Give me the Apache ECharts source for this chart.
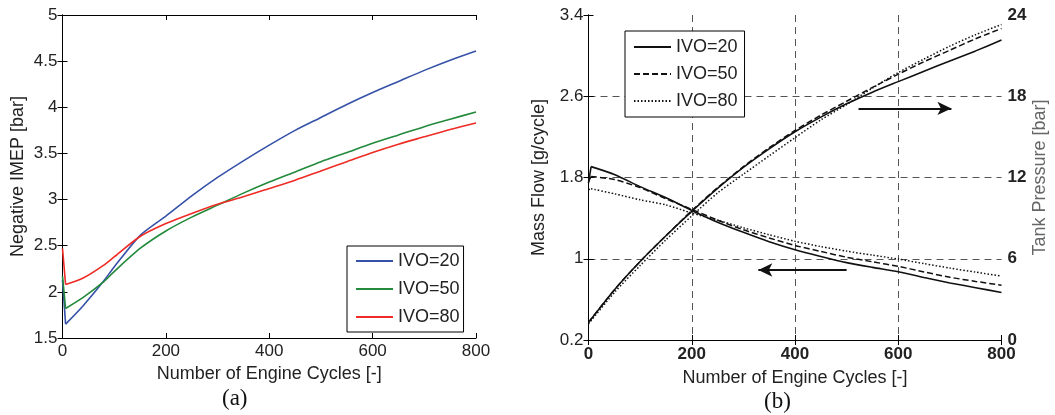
<!DOCTYPE html>
<html>
<head>
<meta charset="utf-8">
<script src="https://cdn.jsdelivr.net/npm/echarts@6/dist/echarts.min.js"></script>
<style>
html,body{margin:0;padding:0;background:#fff;}
#chart{width:1055px;height:415px;}
</style>
</head>
<body>
<div id="chart"></div>
<script>
// ---------- Data: panel (a) ----------
const cyclesA = [0, 6, 40, 80, 100, 150, 200, 250, 300, 350, 400, 450, 500, 550, 600, 650, 700, 750, 800];
const imep20 = [2.13, 1.65, 1.85, 2.12, 2.27, 2.61, 2.82, 3.04, 3.24, 3.42, 3.59, 3.75, 3.89, 4.03, 4.16, 4.28, 4.40, 4.51, 4.61];
const imep50 = [2.17, 1.82, 1.94, 2.11, 2.22, 2.47, 2.66, 2.81, 2.94, 3.07, 3.19, 3.30, 3.41, 3.51, 3.61, 3.70, 3.79, 3.87, 3.95];
const imep80 = [2.47, 2.08, 2.15, 2.29, 2.38, 2.60, 2.74, 2.85, 2.95, 3.03, 3.12, 3.21, 3.31, 3.41, 3.51, 3.60, 3.68, 3.76, 3.83];
const legendNames = ['IVO=20', 'IVO=50', 'IVO=80'];

// ---------- Data: panel (b) ----------
const cyclesMF = [0, 5, 50, 100, 150, 200, 250, 300, 350, 400, 450, 500, 550, 600, 650, 700, 750, 800];
const massFlow20 = [1.745, 1.907, 1.83, 1.71, 1.60, 1.476, 1.36, 1.26, 1.168, 1.089, 1.023, 0.962, 0.915, 0.872, 0.815, 0.762, 0.715, 0.668];
const massFlow50 = [1.76, 1.81, 1.78, 1.70, 1.59, 1.486, 1.38, 1.285, 1.205, 1.131, 1.072, 1.015, 0.97, 0.925, 0.87, 0.818, 0.777, 0.74];
const massFlow80 = [1.68, 1.69, 1.64, 1.58, 1.53, 1.45, 1.38, 1.305, 1.236, 1.172, 1.12, 1.075, 1.035, 0.997, 0.952, 0.908, 0.868, 0.83];
const cyclesTP = [0, 50, 100, 150, 200, 250, 300, 350, 400, 450, 500, 550, 600, 650, 700, 750, 800];
const tankP20 = [1.3, 3.7, 5.8, 7.7, 9.5, 11.2, 12.75, 14.12, 15.38, 16.46, 17.44, 18.3, 19.08, 19.85, 20.6, 21.35, 22.15];
const tankP50 = [1.3, 3.7, 5.8, 7.7, 9.55, 11.25, 12.8, 14.2, 15.48, 16.6, 17.63, 18.65, 19.63, 20.55, 21.4, 22.25, 23.0];
const tankP80 = [1.2, 3.5, 5.5, 7.4, 9.16, 10.86, 12.24, 13.6, 14.94, 16.25, 17.39, 18.6, 19.75, 20.75, 21.7, 22.55, 23.3];
// arrows (data coordinates): [x from, x to, y]
const arrowTP = [523, 703, 17.1];   // right axis (Tank Pressure)
const arrowMF = [500, 329, 0.889];  // left axis (Mass Flow)

// Mass-flow axis runs 0.2..3.4; drawn on an axis offset by MF_BASE so min is a multiple of the interval
const MF_BASE = 0.2;

const FONT = "'Liberation Sans', Arial, Helvetica, sans-serif";
const TXT = '#222';

function pairs(xs, ys, off) { return xs.map((x, i) => [x, +(ys[i] - (off || 0)).toFixed(4)]); }

const chart = echarts.init(document.getElementById('chart'), null, {renderer: 'canvas'});

const axLine = {show: true, lineStyle: {color: '#000', width: 1}};
const axTick = {show: true, inside: true, length: 5, lineStyle: {color: '#000', width: 1}};
const dashGrid = {show: true, showMinLine: false, showMaxLine: false, lineStyle: {color: '#555', width: 1, type: [7, 5]}};

function xAx(grid, pos, opts) {
  return Object.assign({
    gridIndex: grid, type: 'value', position: pos, min: 0, max: 800, interval: 200,
    axisLine: axLine, axisTick: axTick, splitLine: {show: false},
    axisLabel: {show: false}
  }, opts || {});
}

const SM = 0.25;

// A curve whose first segment (initial transient) is straight and the rest smoothed.
function curve(name, xi, yi, pts, lineStyle, extra) {
  const base = {name: name, type: 'line', xAxisIndex: xi, yAxisIndex: yi, symbol: 'none',
    lineStyle: lineStyle, itemStyle: {color: lineStyle.color}};
  return [
    Object.assign({}, base, {smooth: SM, data: pts.slice(1)}, extra || {}),
    Object.assign({}, base, {smooth: false, data: pts.slice(0, 2)})
  ];
}

const series = [].concat(
  curve('IVO=20', 0, 0, pairs(cyclesA, imep20), {color: '#3552a8', width: 1.6}),
  curve('IVO=50', 0, 0, pairs(cyclesA, imep50), {color: '#23893b', width: 1.6}),
  curve('IVO=80', 0, 0, pairs(cyclesA, imep80), {color: '#ee2b25', width: 1.6}),
  curve('IVO=20 ', 2, 2, pairs(cyclesMF, massFlow20, MF_BASE), {color: '#111', width: 1.6, type: 'solid'}, {
    markLine: {silent: true, symbol: ['none', 'arrow'], symbolSize: [10, 14], label: {show: false},
      lineStyle: {color: '#111', width: 2, type: 'solid'},
      data: [[{coord: [arrowMF[0], arrowMF[2] - MF_BASE]}, {coord: [arrowMF[1], arrowMF[2] - MF_BASE]}]]}
  }),
  curve('IVO=50 ', 2, 2, pairs(cyclesMF, massFlow50, MF_BASE), {color: '#111', width: 1.5, type: [6, 3]}),
  curve('IVO=80 ', 2, 2, pairs(cyclesMF, massFlow80, MF_BASE), {color: '#111', width: 1.5, type: [1.5, 2]}),
  [
    {name: 'TP IVO=20', type: 'line', xAxisIndex: 2, yAxisIndex: 3, symbol: 'none', smooth: SM, data: pairs(cyclesTP, tankP20), lineStyle: {color: '#111', width: 1.6, type: 'solid'}, itemStyle: {color: '#111'},
      markLine: {silent: true, symbol: ['none', 'arrow'], symbolSize: [10, 14], label: {show: false},
        lineStyle: {color: '#111', width: 2, type: 'solid'},
        data: [[{coord: [arrowTP[0], arrowTP[2]]}, {coord: [arrowTP[1], arrowTP[2]]}]]}},
    {name: 'TP IVO=50', type: 'line', xAxisIndex: 2, yAxisIndex: 3, symbol: 'none', smooth: SM, data: pairs(cyclesTP, tankP50), lineStyle: {color: '#111', width: 1.5, type: [6, 3]}, itemStyle: {color: '#111'}},
    {name: 'TP IVO=80', type: 'line', xAxisIndex: 2, yAxisIndex: 3, symbol: 'none', smooth: SM, data: pairs(cyclesTP, tankP80), lineStyle: {color: '#111', width: 1.5, type: [1.5, 2]}, itemStyle: {color: '#111'}}
  ]
);

const option = {
  animation: false,
  backgroundColor: '#fff',
  textStyle: {fontFamily: FONT},
  grid: [
    {left: 62.5, right: 579, top: 15, bottom: 77, containLabel: false},
    {left: 588.5, right: 53.5, top: 15, bottom: 75, containLabel: false}
  ],
  xAxis: [
    xAx(0, 'bottom', {
      axisLabel: {show: true, fontSize: 17, color: TXT, margin: 5, fontFamily: FONT},
      name: 'Number of Engine Cycles [-]', nameLocation: 'middle', nameGap: 24,
      nameTextStyle: {fontSize: 18, color: TXT, fontFamily: FONT}
    }),
    xAx(0, 'top'),
    xAx(1, 'bottom', {
      axisLabel: {show: true, fontSize: 17, color: TXT, margin: 6, fontWeight: 'bold', fontFamily: FONT},
      splitLine: dashGrid,
      name: 'Number of Engine Cycles [-]', nameLocation: 'middle', nameGap: 29,
      nameTextStyle: {fontSize: 18, color: TXT, fontFamily: FONT}
    }),
    xAx(1, 'top')
  ],
  yAxis: [
    {
      gridIndex: 0, type: 'value', position: 'left', min: 1.5, max: 5, interval: 0.5,
      axisLine: axLine, axisTick: axTick, splitLine: {show: false},
      axisLabel: {fontSize: 17, color: TXT, margin: 5, fontFamily: FONT},
      name: 'Negative IMEP [bar]', nameLocation: 'middle', nameGap: 35,
      nameTextStyle: {fontSize: 18, color: TXT, fontFamily: FONT}
    },
    {
      gridIndex: 0, type: 'value', position: 'right', min: 1.5, max: 5, interval: 0.5,
      axisLine: axLine, axisTick: axTick, splitLine: {show: false}, axisLabel: {show: false}
    },
    {
      gridIndex: 1, type: 'value', position: 'left', min: 0, max: 3.2, interval: 0.8,
      axisLine: axLine, axisTick: axTick, splitLine: dashGrid,
      axisLabel: {fontSize: 17, color: TXT, margin: 5, fontFamily: FONT,
        formatter: v => String(parseFloat((v + MF_BASE).toFixed(2)))},
      name: 'Mass Flow [g/cycle]', nameLocation: 'middle', nameGap: 40,
      nameTextStyle: {fontSize: 18, color: TXT, fontFamily: FONT}
    },
    {
      gridIndex: 1, type: 'value', position: 'right', min: 0, max: 24, interval: 6,
      axisLine: axLine, axisTick: axTick, splitLine: {show: false},
      axisLabel: {fontSize: 17, color: TXT, margin: 6, fontWeight: 'bold', fontFamily: FONT},
      name: 'Tank Pressure [bar]', nameLocation: 'middle', nameGap: 30, nameRotate: 90,
      nameTextStyle: {fontSize: 18, color: '#666', fontFamily: FONT}
    }
  ],
  legend: [
    {
      left: 347, top: 246, orient: 'vertical', data: legendNames,
      itemWidth: 37, itemHeight: 14, itemGap: 10, padding: [6, 4, 6, 8],
      itemStyle: {opacity: 0},
      borderColor: '#000', borderWidth: 1, backgroundColor: '#fff', borderRadius: 0,
      textStyle: {fontSize: 18, color: TXT, fontFamily: FONT}, selectedMode: false
    },
    {
      left: 625, top: 31, orient: 'vertical', data: legendNames.map(n => n + ' '),
      itemWidth: 37, itemHeight: 14, itemGap: 9, padding: [7, 2, 7, 8],
      itemStyle: {opacity: 0},
      borderColor: '#000', borderWidth: 1, backgroundColor: '#fff', borderRadius: 0,
      textStyle: {fontSize: 18, color: TXT, fontFamily: FONT}, selectedMode: false
    }
  ],
  graphic: [
    {type: 'text', left: 222, top: 387, style: {text: '(a)', font: "23px 'Liberation Serif', 'Times New Roman', serif", fill: '#111'}},
    {type: 'text', left: 764, top: 390, style: {text: '(b)', font: "23px 'Liberation Serif', 'Times New Roman', serif", fill: '#111'}}
  ],
  series: series
};
chart.setOption(option);
</script>
</body>
</html>
